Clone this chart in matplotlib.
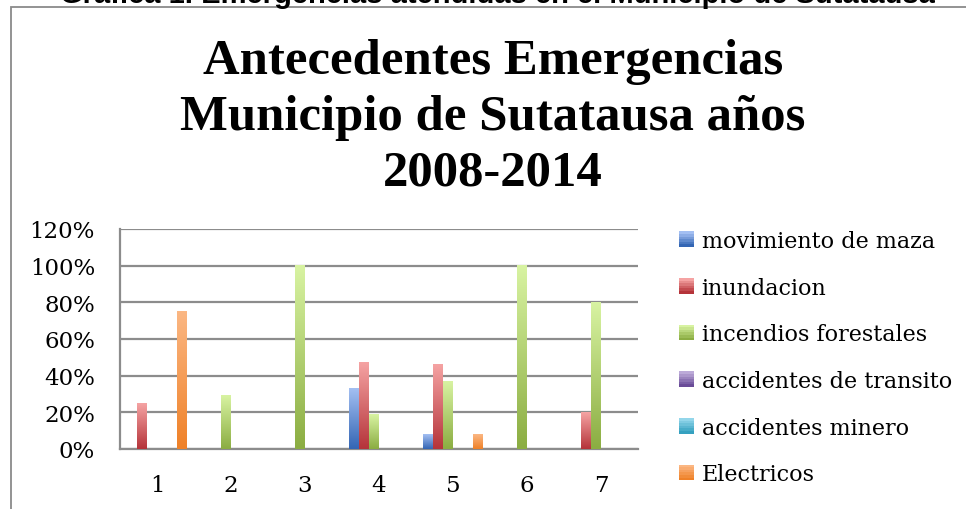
import matplotlib
matplotlib.use("Agg")
import matplotlib.pyplot as plt
import numpy as np
from matplotlib.colors import LinearSegmentedColormap
from matplotlib.patches import Rectangle, Patch

categories = ["1", "2", "3", "4", "5", "6", "7"]
series_names = ["movimiento de maza", "inundacion", "incendios forestales",
                "accidentes de transito", "accidentes minero", "Electricos"]
movimiento = [0, 0, 0, 0.33, 0.08, 0, 0]
inundacion = [0.25, 0, 0, 0.47, 0.46, 0, 0.20]
incendios = [0, 0.29, 1.00, 0.19, 0.37, 1.00, 0.80]
transito = [0, 0, 0, 0, 0, 0, 0]
minero = [0, 0, 0, 0, 0, 0, 0]
electricos = [0.75, 0, 0, 0, 0.08, 0, 0]
series_values = [movimiento, inundacion, incendios, transito, minero, electricos]
yticks = [0, 0.2, 0.4, 0.6, 0.8, 1.0, 1.2]
ytick_labels = ["0%", "20%", "40%", "60%", "80%", "100%", "120%"]
title_lines = ["Antecedentes Emergencias", "Municipio de Sutatausa años", "2008-2014"]
caption = "Grafica 1. Emergencias atendidas en el Municipio de Sutatausa"

grad = [("#a3bff2", "#3466b4"), ("#f5a3a3", "#b5343a"), ("#d8f3a2", "#8bad42"),
        ("#bcaad8", "#6a4c98"), ("#93d6ea", "#35a1c0"), ("#fbb783", "#ef8128")]

fig = plt.figure(figsize=(9.66, 5.10), dpi=100)
W, H = 966, 510

# outer frame (left and top visible)
fig.patches.append(Rectangle((11 / W, -0.1), 1.2, (1 - 8 / H) + 0.1, transform=fig.transFigure,
                             fill=False, edgecolor="#8a8a8a", linewidth=1.3))

fig.text(497 / W, 1 - 3 / H, caption,
         ha="center", va="baseline", fontsize=21, fontweight="bold", family="Liberation Sans")

for line, base in zip(title_lines, [74, 130, 186]):
    fig.text(493 / W, 1 - base / H, line, ha="center", va="baseline",
             fontsize=36.5, fontweight="bold", family="Liberation Serif")

ax = fig.add_axes([120 / W, 1 - 450 / H, 518 / W, 220 / H])

n = len(series_names)
bw = 0.135
x = np.arange(1, len(categories) + 1)
for i, (vals, (top, bot)) in enumerate(zip(series_values, grad)):
    cmap = LinearSegmentedColormap.from_list("g%d" % i, [bot, top])
    for xi, v in zip(x, vals):
        if v <= 0:
            continue
        x0 = xi + (i - (n - 1) / 2) * bw - bw / 2
        ax.imshow(np.linspace(0, 1, 100).reshape(-1, 1), cmap=cmap, origin="lower",
                  extent=[x0, x0 + bw, 0, v], aspect="auto", zorder=3)
ax.set_xlim(0.5, 7.5)
ax.set_ylim(0, 1.2)

ax.set_yticks(yticks)
ax.set_yticklabels(ytick_labels)
ax.set_xticks(x)
ax.set_xticklabels(categories)
ax.yaxis.grid(True, color="#8c8c8c", linewidth=1.6, zorder=1)
ax.set_axisbelow(True)
for s in ["top", "right"]:
    ax.spines[s].set_visible(False)
for s in ["left", "bottom"]:
    ax.spines[s].set_color("#8c8c8c")
    ax.spines[s].set_linewidth(1.6)
ax.tick_params(axis="both", length=0, labelsize=16.5)
ax.tick_params(axis="x", pad=18)
ax.tick_params(axis="y", pad=18)
for lab in ax.get_xticklabels() + ax.get_yticklabels():
    lab.set_family("DejaVu Serif")


class GradHandler:
    def __init__(self, top, bot):
        self.top, self.bot = top, bot

    def legend_artist(self, legend, orig_handle, fontsize, handlebox):
        x0, y0 = handlebox.xdescent, handlebox.ydescent
        w, h = handlebox.width, handlebox.height
        k = 6
        c1 = np.array(matplotlib.colors.to_rgb(self.bot))
        c2 = np.array(matplotlib.colors.to_rgb(self.top))
        r = None
        for j in range(k):
            t = j / (k - 1)
            col = c1 * (1 - t) + c2 * t
            r = Rectangle((x0, y0 + h * j / k), w, h / k, facecolor=col, edgecolor="none",
                          transform=handlebox.get_transform())
            handlebox.add_artist(r)
        return r


handles = [Patch(facecolor=g[0], edgecolor="none", label=nm) for g, nm in zip(grad, series_names)]
hmap = {h: GradHandler(g[0], g[1]) for h, g in zip(handles, grad)}
leg = fig.legend(handles=handles, loc="upper left", bbox_to_anchor=(670 / W, 1 - 222 / H),
                 frameon=False, prop={"family": "DejaVu Serif", "size": 16},
                 handlelength=0.7, handleheight=0.7, handletextpad=0.32, labelspacing=1.11,
                 borderaxespad=0, handler_map=hmap)

fig.savefig("out.png", dpi=100)
